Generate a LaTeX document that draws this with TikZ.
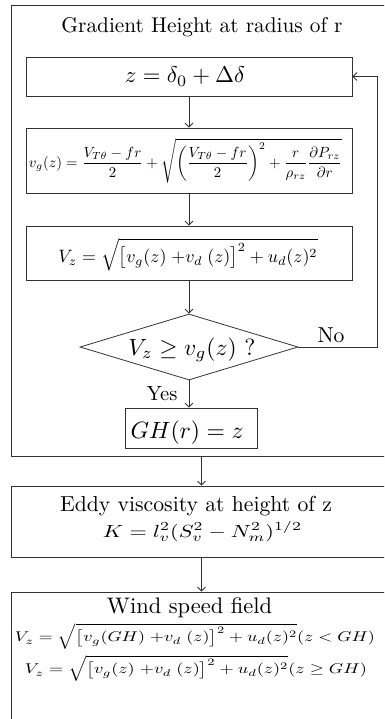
\documentclass[tikz,border=0pt]{standalone}
\usepackage{amsmath,amssymb}
\usetikzlibrary{arrows.meta,shapes.geometric}
\newcommand{\fitw}[2]{\resizebox{#1pt}{!}{#2}}
\newcommand{\fitwh}[3]{\resizebox*{#1pt}{#2pt}{#3}}
\begin{document}
\begin{tikzpicture}[x=1pt,y=-1pt,
  box/.style={draw=black!80, line width=0.8pt, rectangle, inner sep=0pt},
  arr/.style={draw=black!80, line width=0.8pt, -{Straight Barb[length=4pt,width=8pt]}},
  txt/.style={inner sep=0pt, anchor=base},
  ctr/.style={inner sep=0pt, anchor=center}]
\useasboundingbox (0,0) rectangle (384,719);
\clip (0,0) rectangle (384,719);
% outer group
\node[box, minimum width=381pt, minimum height=451pt] (outer) at (201.5,230.5) {};
\node[txt] (t1) at (202,33) {\fitw{281}{Gradient Height at radius of r}};
% inner boxes
\node[box, minimum width=326pt, minimum height=39pt] (zb) at (189,76.5) {};
\node[txt] (zt) at (185,83) {\fitw{120}{$z=\delta_0+\Delta\delta$}};
\node[box, minimum width=326pt, minimum height=65pt] (vg) at (189,160.5) {};
\node[ctr] (vgt) at (185.5,161) {\fitw{313}{$v_g(z)=\dfrac{V_{T\theta}-fr}{2}+\sqrt{\left(\dfrac{V_{T\theta}-fr}{2}\right)^{2}+\dfrac{r}{\rho_{rz}}\dfrac{\partial P_{rz}}{\partial r}}$}};
\node[box, minimum width=326pt, minimum height=54pt] (vz) at (189,253) {};
\node[ctr] (vzt) at (188,255) {\fitw{259}{$V_z=\sqrt{\bigl[v_g(z)\;{+}v_d\;(z)\bigr]^{2}+u_d(z)^{2}}$}};
\node[draw=black!80, line width=0.8pt, diamond, inner sep=0pt, shape aspect=3.3,
      minimum width=218pt, minimum height=66pt] (dia) at (189,347) {};
\node[txt] (diat) at (192,355) {\fitw{127}{$V_z\geq v_g(z)\ ?$}};
\node[box, minimum width=132pt, minimum height=40pt] (gh) at (191,428) {};
\node[txt] (ght) at (187,438) {\fitw{113}{$GH(r)=z$}};
\node[txt] (yes) at (162,400) {\fitw{31}{Yes}};
\node[txt] (no) at (331,342) {\fitw{27}{No}};
\coordinate (fb) at (377,347);
% lower boxes
\node[box, minimum width=381pt, minimum height=71pt] (eddy) at (201.5,521.5) {};
\node[txt] (et) at (196,511) {\fitw{272}{Eddy viscosity at height of z}};
\node[ctr] (kt) at (202.5,531.5) {\fitwh{199}{20}{$K=l_v^2(S_v^2-N_m^2)^{1/2}$}};
\node[box, minimum width=381pt, minimum height=138pt] (wind) at (201.5,661) {};
\node[txt] (wt) at (189.5,613) {\fitw{165}{Wind speed field}};
\node[ctr] (w1) at (195,636) {\fitwh{360}{26}{$V_z=\sqrt{\bigl[v_g(GH)\;{+}v_d\;(z)\bigr]^{2}+u_d(z)^{2}}(z<GH)$}};
\node[ctr] (w2) at (196,668) {\fitwh{342}{26}{$V_z=\sqrt{\bigl[v_g(z)\;{+}v_d\;(z)\bigr]^{2}+u_d(z)^{2}}(z\geq GH)$}};
% connectors
\draw[arr] (zb.south) -- (vg.north);
\draw[arr] (vg.south) -- (vz.north);
\draw[arr] (vz.south) -- (dia.north);
\draw[arr] (dia.south) -- (dia.south |- gh.north);
\draw[arr] (dia.east) -- (fb) |- (zb.east);
\draw[arr] (outer.south) -- (eddy.north);
\draw[arr] (eddy.south) -- (wind.north);
\end{tikzpicture}
\end{document}
